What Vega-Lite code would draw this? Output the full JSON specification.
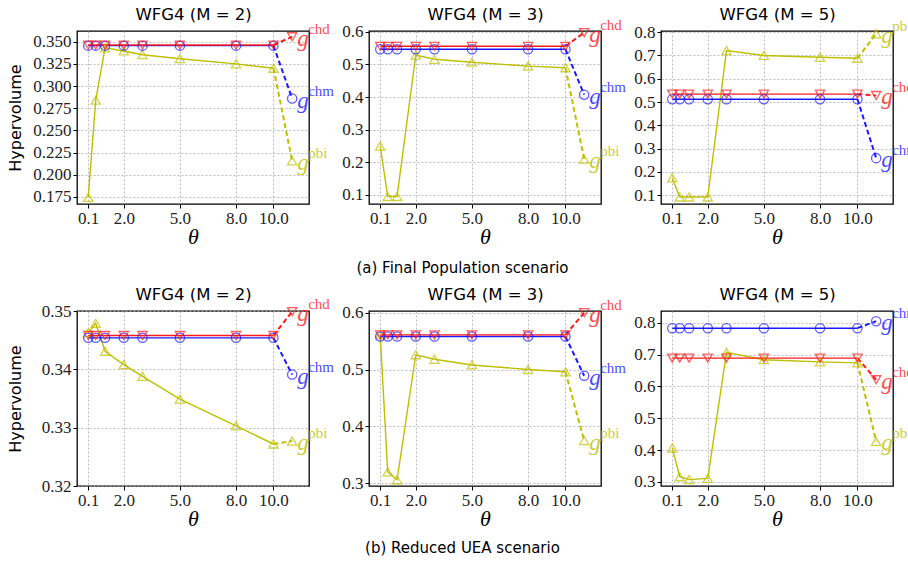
{
"$schema": "https://vega.github.io/schema/vega-lite/v6.json",
"background": "white",
"padding": {"left": 6, "top": 5, "right": 0, "bottom": 0},
"datasets": {"hv": [
{"sc":"a","M":2,"s":"pbi","t":0.1,"v":0.1744},{"sc":"a","M":2,"s":"pbi","t":0.5,"v":0.284},{"sc":"a","M":2,"s":"pbi","t":1.0,"v":0.343},{"sc":"a","M":2,"s":"pbi","t":2.0,"v":0.3395},{"sc":"a","M":2,"s":"pbi","t":3.0,"v":0.3353},{"sc":"a","M":2,"s":"pbi","t":5.0,"v":0.3308},{"sc":"a","M":2,"s":"pbi","t":8.0,"v":0.325},{"sc":"a","M":2,"s":"pbi","t":10.0,"v":0.320},{"sc":"a","M":2,"s":"pbi","t":11.0,"v":0.2157},
{"sc":"a","M":2,"s":"chm","t":0.1,"v":0.3455},{"sc":"a","M":2,"s":"chm","t":0.5,"v":0.3455},{"sc":"a","M":2,"s":"chm","t":1.0,"v":0.3455},{"sc":"a","M":2,"s":"chm","t":2.0,"v":0.3455},{"sc":"a","M":2,"s":"chm","t":3.0,"v":0.3455},{"sc":"a","M":2,"s":"chm","t":5.0,"v":0.3455},{"sc":"a","M":2,"s":"chm","t":8.0,"v":0.3455},{"sc":"a","M":2,"s":"chm","t":10.0,"v":0.3455},{"sc":"a","M":2,"s":"chm","t":11.0,"v":0.2859},
{"sc":"a","M":2,"s":"chd","t":0.1,"v":0.3462},{"sc":"a","M":2,"s":"chd","t":0.5,"v":0.3462},{"sc":"a","M":2,"s":"chd","t":1.0,"v":0.3462},{"sc":"a","M":2,"s":"chd","t":2.0,"v":0.3462},{"sc":"a","M":2,"s":"chd","t":3.0,"v":0.3462},{"sc":"a","M":2,"s":"chd","t":5.0,"v":0.3462},{"sc":"a","M":2,"s":"chd","t":8.0,"v":0.3462},{"sc":"a","M":2,"s":"chd","t":10.0,"v":0.3462},{"sc":"a","M":2,"s":"chd","t":11.0,"v":0.3555},
{"sc":"a","M":3,"s":"pbi","t":0.1,"v":0.249},{"sc":"a","M":3,"s":"pbi","t":0.5,"v":0.094},{"sc":"a","M":3,"s":"pbi","t":1.0,"v":0.094},{"sc":"a","M":3,"s":"pbi","t":2.0,"v":0.529},{"sc":"a","M":3,"s":"pbi","t":3.0,"v":0.516},{"sc":"a","M":3,"s":"pbi","t":5.0,"v":0.507},{"sc":"a","M":3,"s":"pbi","t":8.0,"v":0.495},{"sc":"a","M":3,"s":"pbi","t":10.0,"v":0.490},{"sc":"a","M":3,"s":"pbi","t":11.0,"v":0.209},
{"sc":"a","M":3,"s":"chm","t":0.1,"v":0.547},{"sc":"a","M":3,"s":"chm","t":0.5,"v":0.547},{"sc":"a","M":3,"s":"chm","t":1.0,"v":0.547},{"sc":"a","M":3,"s":"chm","t":2.0,"v":0.547},{"sc":"a","M":3,"s":"chm","t":3.0,"v":0.547},{"sc":"a","M":3,"s":"chm","t":5.0,"v":0.547},{"sc":"a","M":3,"s":"chm","t":8.0,"v":0.547},{"sc":"a","M":3,"s":"chm","t":10.0,"v":0.547},{"sc":"a","M":3,"s":"chm","t":11.0,"v":0.407},
{"sc":"a","M":3,"s":"chd","t":0.1,"v":0.556},{"sc":"a","M":3,"s":"chd","t":0.5,"v":0.556},{"sc":"a","M":3,"s":"chd","t":1.0,"v":0.556},{"sc":"a","M":3,"s":"chd","t":2.0,"v":0.556},{"sc":"a","M":3,"s":"chd","t":3.0,"v":0.556},{"sc":"a","M":3,"s":"chd","t":5.0,"v":0.556},{"sc":"a","M":3,"s":"chd","t":8.0,"v":0.556},{"sc":"a","M":3,"s":"chd","t":10.0,"v":0.556},{"sc":"a","M":3,"s":"chd","t":11.0,"v":0.598},
{"sc":"a","M":5,"s":"pbi","t":0.1,"v":0.174},{"sc":"a","M":5,"s":"pbi","t":0.5,"v":0.092},{"sc":"a","M":5,"s":"pbi","t":1.0,"v":0.092},{"sc":"a","M":5,"s":"pbi","t":2.0,"v":0.092},{"sc":"a","M":5,"s":"pbi","t":3.0,"v":0.721},{"sc":"a","M":5,"s":"pbi","t":5.0,"v":0.700},{"sc":"a","M":5,"s":"pbi","t":8.0,"v":0.692},{"sc":"a","M":5,"s":"pbi","t":10.0,"v":0.688},{"sc":"a","M":5,"s":"pbi","t":11.0,"v":0.793},
{"sc":"a","M":5,"s":"chm","t":0.1,"v":0.512},{"sc":"a","M":5,"s":"chm","t":0.5,"v":0.512},{"sc":"a","M":5,"s":"chm","t":1.0,"v":0.512},{"sc":"a","M":5,"s":"chm","t":2.0,"v":0.512},{"sc":"a","M":5,"s":"chm","t":3.0,"v":0.512},{"sc":"a","M":5,"s":"chm","t":5.0,"v":0.512},{"sc":"a","M":5,"s":"chm","t":8.0,"v":0.512},{"sc":"a","M":5,"s":"chm","t":10.0,"v":0.512},{"sc":"a","M":5,"s":"chm","t":11.0,"v":0.259},
{"sc":"a","M":5,"s":"chd","t":0.1,"v":0.534},{"sc":"a","M":5,"s":"chd","t":0.5,"v":0.534},{"sc":"a","M":5,"s":"chd","t":1.0,"v":0.534},{"sc":"a","M":5,"s":"chd","t":2.0,"v":0.534},{"sc":"a","M":5,"s":"chd","t":3.0,"v":0.534},{"sc":"a","M":5,"s":"chd","t":5.0,"v":0.534},{"sc":"a","M":5,"s":"chd","t":8.0,"v":0.534},{"sc":"a","M":5,"s":"chd","t":10.0,"v":0.534},{"sc":"a","M":5,"s":"chd","t":11.0,"v":0.528},
{"sc":"b","M":2,"s":"pbi","t":0.1,"v":0.3463},{"sc":"b","M":2,"s":"pbi","t":0.5,"v":0.3479},{"sc":"b","M":2,"s":"pbi","t":1.0,"v":0.3431},{"sc":"b","M":2,"s":"pbi","t":2.0,"v":0.3408},{"sc":"b","M":2,"s":"pbi","t":3.0,"v":0.3388},{"sc":"b","M":2,"s":"pbi","t":5.0,"v":0.3349},{"sc":"b","M":2,"s":"pbi","t":8.0,"v":0.3303},{"sc":"b","M":2,"s":"pbi","t":10.0,"v":0.3272},{"sc":"b","M":2,"s":"pbi","t":11.0,"v":0.3277},
{"sc":"b","M":2,"s":"chm","t":0.1,"v":0.3454},{"sc":"b","M":2,"s":"chm","t":0.5,"v":0.3454},{"sc":"b","M":2,"s":"chm","t":1.0,"v":0.3454},{"sc":"b","M":2,"s":"chm","t":2.0,"v":0.3454},{"sc":"b","M":2,"s":"chm","t":3.0,"v":0.3454},{"sc":"b","M":2,"s":"chm","t":5.0,"v":0.3454},{"sc":"b","M":2,"s":"chm","t":8.0,"v":0.3454},{"sc":"b","M":2,"s":"chm","t":10.0,"v":0.3454},{"sc":"b","M":2,"s":"chm","t":11.0,"v":0.3391},
{"sc":"b","M":2,"s":"chd","t":0.1,"v":0.3458},{"sc":"b","M":2,"s":"chd","t":0.5,"v":0.3458},{"sc":"b","M":2,"s":"chd","t":1.0,"v":0.3458},{"sc":"b","M":2,"s":"chd","t":2.0,"v":0.3458},{"sc":"b","M":2,"s":"chd","t":3.0,"v":0.3458},{"sc":"b","M":2,"s":"chd","t":5.0,"v":0.3458},{"sc":"b","M":2,"s":"chd","t":8.0,"v":0.3458},{"sc":"b","M":2,"s":"chd","t":10.0,"v":0.3458},{"sc":"b","M":2,"s":"chd","t":11.0,"v":0.3499},
{"sc":"b","M":3,"s":"pbi","t":0.1,"v":0.561},{"sc":"b","M":3,"s":"pbi","t":0.5,"v":0.320},{"sc":"b","M":3,"s":"pbi","t":1.0,"v":0.306},{"sc":"b","M":3,"s":"pbi","t":2.0,"v":0.526},{"sc":"b","M":3,"s":"pbi","t":3.0,"v":0.518},{"sc":"b","M":3,"s":"pbi","t":5.0,"v":0.508},{"sc":"b","M":3,"s":"pbi","t":8.0,"v":0.500},{"sc":"b","M":3,"s":"pbi","t":10.0,"v":0.496},{"sc":"b","M":3,"s":"pbi","t":11.0,"v":0.375},
{"sc":"b","M":3,"s":"chm","t":0.1,"v":0.558},{"sc":"b","M":3,"s":"chm","t":0.5,"v":0.558},{"sc":"b","M":3,"s":"chm","t":1.0,"v":0.558},{"sc":"b","M":3,"s":"chm","t":2.0,"v":0.558},{"sc":"b","M":3,"s":"chm","t":3.0,"v":0.558},{"sc":"b","M":3,"s":"chm","t":5.0,"v":0.558},{"sc":"b","M":3,"s":"chm","t":8.0,"v":0.558},{"sc":"b","M":3,"s":"chm","t":10.0,"v":0.558},{"sc":"b","M":3,"s":"chm","t":11.0,"v":0.489},
{"sc":"b","M":3,"s":"chd","t":0.1,"v":0.561},{"sc":"b","M":3,"s":"chd","t":0.5,"v":0.561},{"sc":"b","M":3,"s":"chd","t":1.0,"v":0.561},{"sc":"b","M":3,"s":"chd","t":2.0,"v":0.561},{"sc":"b","M":3,"s":"chd","t":3.0,"v":0.561},{"sc":"b","M":3,"s":"chd","t":5.0,"v":0.561},{"sc":"b","M":3,"s":"chd","t":8.0,"v":0.561},{"sc":"b","M":3,"s":"chd","t":10.0,"v":0.561},{"sc":"b","M":3,"s":"chd","t":11.0,"v":0.600},
{"sc":"b","M":5,"s":"pbi","t":0.1,"v":0.406},{"sc":"b","M":5,"s":"pbi","t":0.5,"v":0.316},{"sc":"b","M":5,"s":"pbi","t":1.0,"v":0.307},{"sc":"b","M":5,"s":"pbi","t":2.0,"v":0.311},{"sc":"b","M":5,"s":"pbi","t":3.0,"v":0.707},{"sc":"b","M":5,"s":"pbi","t":5.0,"v":0.684},{"sc":"b","M":5,"s":"pbi","t":8.0,"v":0.677},{"sc":"b","M":5,"s":"pbi","t":10.0,"v":0.674},{"sc":"b","M":5,"s":"pbi","t":11.0,"v":0.427},
{"sc":"b","M":5,"s":"chm","t":0.1,"v":0.783},{"sc":"b","M":5,"s":"chm","t":0.5,"v":0.783},{"sc":"b","M":5,"s":"chm","t":1.0,"v":0.783},{"sc":"b","M":5,"s":"chm","t":2.0,"v":0.783},{"sc":"b","M":5,"s":"chm","t":3.0,"v":0.783},{"sc":"b","M":5,"s":"chm","t":5.0,"v":0.783},{"sc":"b","M":5,"s":"chm","t":8.0,"v":0.783},{"sc":"b","M":5,"s":"chm","t":10.0,"v":0.783},{"sc":"b","M":5,"s":"chm","t":11.0,"v":0.805},
{"sc":"b","M":5,"s":"chd","t":0.1,"v":0.689},{"sc":"b","M":5,"s":"chd","t":0.5,"v":0.689},{"sc":"b","M":5,"s":"chd","t":1.0,"v":0.689},{"sc":"b","M":5,"s":"chd","t":2.0,"v":0.689},{"sc":"b","M":5,"s":"chd","t":3.0,"v":0.689},{"sc":"b","M":5,"s":"chd","t":5.0,"v":0.689},{"sc":"b","M":5,"s":"chd","t":8.0,"v":0.689},{"sc":"b","M":5,"s":"chd","t":10.0,"v":0.689},{"sc":"b","M":5,"s":"chd","t":11.0,"v":0.621}
]},
"vconcat": [
{
"title": {"text": "(a) Final Population scenario", "orient": "bottom", "font": "DejaVu Sans", "fontSize": 15, "fontWeight": "normal", "anchor": "middle", "offset": 13},
"spacing": 4,
"hconcat": [
{"width": 232, "height": 173, "data": {"name": "hv"},
 "transform": [{"filter": "datum.sc == 'a' && datum.M == 2"}],
 "resolve": {"axis": {"x": "independent"}},
 "encoding": {
  "x": {"field": "t", "type": "quantitative", "scale": {"domain": [-0.5, 11.9], "nice": false, "zero": false}, "axis": null},
  "y": {"field": "v", "type": "quantitative", "scale": {"domain": [0.167, 0.362], "nice": false, "zero": false}, "axis": {"values": [0.175, 0.2, 0.225, 0.25, 0.275, 0.3, 0.325, 0.35], "format": ".3f", "title": "Hypervolume", "minExtent": 48, "maxExtent": 48}},
  "color": {"field": "s", "type": "nominal", "scale": {"domain": ["chd", "chm", "pbi"], "range": ["#ff1a1a", "#1a1aff", "#bfbf00"]}, "legend": null}
 },
 "layer": [
  {"transform": [{"filter": "datum.t <= 10"}], "mark": {"type": "line", "strokeWidth": 1.4}, "encoding": {"x": {"field": "t", "type": "quantitative", "scale": {"domain": [-0.5, 11.9], "nice": false, "zero": false}, "axis": {"values": [0.1, 2, 5, 8, 10], "format": ".1f", "title": "θ"}}}},
  {"transform": [{"filter": "datum.t >= 10"}], "mark": {"type": "line", "strokeWidth": 2, "strokeDash": [5, 3]}, "encoding": {"x": {"field": "t", "type": "quantitative", "scale": {"domain": [-0.5, 11.9], "nice": false, "zero": false}, "axis": {"orient": "top", "title": "WFG4 (M = 2)", "labels": false, "ticks": false, "grid": false, "domain": false, "titleFont": "DejaVu Sans", "titleFontStyle": "normal", "titleFontSize": 16.5, "titlePadding": 9}}}},
  {"mark": {"type": "point", "filled": false, "size": 85, "strokeWidth": 1.3}, "encoding": {"shape": {"field": "s", "type": "nominal", "scale": {"domain": ["chd", "chm", "pbi"], "range": ["triangle-down", "circle", "triangle-up"]}, "legend": null}}},
  {"transform": [{"filter": "datum.t == 11"}], "mark": {"type": "text", "align": "left", "baseline": "middle", "dx": 5, "dy": 2, "font": "Liberation Serif", "fontStyle": "italic", "fontSize": 23, "opacity": 0.8}, "encoding": {"text": {"value": "g"}}},
  {"transform": [{"filter": "datum.t == 11"}], "mark": {"type": "text", "align": "left", "baseline": "middle", "dx": 16, "dy": -8, "font": "Liberation Serif", "fontSize": 15, "opacity": 0.8}, "encoding": {"text": {"field": "s"}}}
 ]},
{"width": 232, "height": 173, "data": {"name": "hv"},
 "transform": [{"filter": "datum.sc == 'a' && datum.M == 3"}],
 "resolve": {"axis": {"x": "independent"}},
 "encoding": {
  "x": {"field": "t", "type": "quantitative", "scale": {"domain": [-0.5, 11.9], "nice": false, "zero": false}, "axis": null},
  "y": {"field": "v", "type": "quantitative", "scale": {"domain": [0.071, 0.603], "nice": false, "zero": false}, "axis": {"values": [0.1, 0.2, 0.3, 0.4, 0.5, 0.6], "format": ".1f", "title": null, "minExtent": 29, "maxExtent": 29}},
  "color": {"field": "s", "type": "nominal", "scale": {"domain": ["chd", "chm", "pbi"], "range": ["#ff1a1a", "#1a1aff", "#bfbf00"]}, "legend": null}
 },
 "layer": [
  {"transform": [{"filter": "datum.t <= 10"}], "mark": {"type": "line", "strokeWidth": 1.4}, "encoding": {"x": {"field": "t", "type": "quantitative", "scale": {"domain": [-0.5, 11.9], "nice": false, "zero": false}, "axis": {"values": [0.1, 2, 5, 8, 10], "format": ".1f", "title": "θ"}}}},
  {"transform": [{"filter": "datum.t >= 10"}], "mark": {"type": "line", "strokeWidth": 2, "strokeDash": [5, 3]}, "encoding": {"x": {"field": "t", "type": "quantitative", "scale": {"domain": [-0.5, 11.9], "nice": false, "zero": false}, "axis": {"orient": "top", "title": "WFG4 (M = 3)", "labels": false, "ticks": false, "grid": false, "domain": false, "titleFont": "DejaVu Sans", "titleFontStyle": "normal", "titleFontSize": 16.5, "titlePadding": 9}}}},
  {"mark": {"type": "point", "filled": false, "size": 85, "strokeWidth": 1.3}, "encoding": {"shape": {"field": "s", "type": "nominal", "scale": {"domain": ["chd", "chm", "pbi"], "range": ["triangle-down", "circle", "triangle-up"]}, "legend": null}}},
  {"transform": [{"filter": "datum.t == 11"}], "mark": {"type": "text", "align": "left", "baseline": "middle", "dx": 5, "dy": 2, "font": "Liberation Serif", "fontStyle": "italic", "fontSize": 23, "opacity": 0.8}, "encoding": {"text": {"value": "g"}}},
  {"transform": [{"filter": "datum.t == 11"}], "mark": {"type": "text", "align": "left", "baseline": "middle", "dx": 16, "dy": -8, "font": "Liberation Serif", "fontSize": 15, "opacity": 0.8}, "encoding": {"text": {"field": "s"}}}
 ]},
{"width": 232, "height": 173, "data": {"name": "hv"},
 "transform": [{"filter": "datum.sc == 'a' && datum.M == 5"}],
 "resolve": {"axis": {"x": "independent"}},
 "encoding": {
  "x": {"field": "t", "type": "quantitative", "scale": {"domain": [-0.5, 11.9], "nice": false, "zero": false}, "axis": null},
  "y": {"field": "v", "type": "quantitative", "scale": {"domain": [0.062, 0.805], "nice": false, "zero": false}, "axis": {"values": [0.1, 0.2, 0.3, 0.4, 0.5, 0.6, 0.7, 0.8], "format": ".1f", "title": null, "minExtent": 29, "maxExtent": 29}},
  "color": {"field": "s", "type": "nominal", "scale": {"domain": ["chd", "chm", "pbi"], "range": ["#ff1a1a", "#1a1aff", "#bfbf00"]}, "legend": null}
 },
 "layer": [
  {"transform": [{"filter": "datum.t <= 10"}], "mark": {"type": "line", "strokeWidth": 1.4}, "encoding": {"x": {"field": "t", "type": "quantitative", "scale": {"domain": [-0.5, 11.9], "nice": false, "zero": false}, "axis": {"values": [0.1, 2, 5, 8, 10], "format": ".1f", "title": "θ"}}}},
  {"transform": [{"filter": "datum.t >= 10"}], "mark": {"type": "line", "strokeWidth": 2, "strokeDash": [5, 3]}, "encoding": {"x": {"field": "t", "type": "quantitative", "scale": {"domain": [-0.5, 11.9], "nice": false, "zero": false}, "axis": {"orient": "top", "title": "WFG4 (M = 5)", "labels": false, "ticks": false, "grid": false, "domain": false, "titleFont": "DejaVu Sans", "titleFontStyle": "normal", "titleFontSize": 16.5, "titlePadding": 9}}}},
  {"mark": {"type": "point", "filled": false, "size": 85, "strokeWidth": 1.3}, "encoding": {"shape": {"field": "s", "type": "nominal", "scale": {"domain": ["chd", "chm", "pbi"], "range": ["triangle-down", "circle", "triangle-up"]}, "legend": null}}},
  {"transform": [{"filter": "datum.t == 11"}], "mark": {"type": "text", "align": "left", "baseline": "middle", "dx": 5, "dy": 2, "font": "Liberation Serif", "fontStyle": "italic", "fontSize": 23, "opacity": 0.8}, "encoding": {"text": {"value": "g"}}},
  {"transform": [{"filter": "datum.t == 11"}], "mark": {"type": "text", "align": "left", "baseline": "middle", "dx": 16, "dy": -8, "font": "Liberation Serif", "fontSize": 15, "opacity": 0.8}, "encoding": {"text": {"field": "s"}}}
 ]}
]},
{
"title": {"text": "(b) Reduced UEA scenario", "orient": "bottom", "font": "DejaVu Sans", "fontSize": 15, "fontWeight": "normal", "anchor": "middle", "offset": 11},
"spacing": 4,
"hconcat": [
{"width": 232, "height": 175, "data": {"name": "hv"},
 "transform": [{"filter": "datum.sc == 'b' && datum.M == 2"}],
 "resolve": {"axis": {"x": "independent"}},
 "encoding": {
  "x": {"field": "t", "type": "quantitative", "scale": {"domain": [-0.5, 11.9], "nice": false, "zero": false}, "axis": null},
  "y": {"field": "v", "type": "quantitative", "scale": {"domain": [0.32, 0.35], "nice": false, "zero": false}, "axis": {"values": [0.32, 0.33, 0.34, 0.35], "format": ".2f", "title": "Hypervolume", "minExtent": 48, "maxExtent": 48}},
  "color": {"field": "s", "type": "nominal", "scale": {"domain": ["chd", "chm", "pbi"], "range": ["#ff1a1a", "#1a1aff", "#bfbf00"]}, "legend": null}
 },
 "layer": [
  {"transform": [{"filter": "datum.t <= 10"}], "mark": {"type": "line", "strokeWidth": 1.4}, "encoding": {"x": {"field": "t", "type": "quantitative", "scale": {"domain": [-0.5, 11.9], "nice": false, "zero": false}, "axis": {"values": [0.1, 2, 5, 8, 10], "format": ".1f", "title": "θ"}}}},
  {"transform": [{"filter": "datum.t >= 10"}], "mark": {"type": "line", "strokeWidth": 2, "strokeDash": [5, 3]}, "encoding": {"x": {"field": "t", "type": "quantitative", "scale": {"domain": [-0.5, 11.9], "nice": false, "zero": false}, "axis": {"orient": "top", "title": "WFG4 (M = 2)", "labels": false, "ticks": false, "grid": false, "domain": false, "titleFont": "DejaVu Sans", "titleFontStyle": "normal", "titleFontSize": 16.5, "titlePadding": 9}}}},
  {"mark": {"type": "point", "filled": false, "size": 85, "strokeWidth": 1.3}, "encoding": {"shape": {"field": "s", "type": "nominal", "scale": {"domain": ["chd", "chm", "pbi"], "range": ["triangle-down", "circle", "triangle-up"]}, "legend": null}}},
  {"transform": [{"filter": "datum.t == 11"}], "mark": {"type": "text", "align": "left", "baseline": "middle", "dx": 5, "dy": 2, "font": "Liberation Serif", "fontStyle": "italic", "fontSize": 23, "opacity": 0.8}, "encoding": {"text": {"value": "g"}}},
  {"transform": [{"filter": "datum.t == 11"}], "mark": {"type": "text", "align": "left", "baseline": "middle", "dx": 16, "dy": -8, "font": "Liberation Serif", "fontSize": 15, "opacity": 0.8}, "encoding": {"text": {"field": "s"}}}
 ]},
{"width": 232, "height": 175, "data": {"name": "hv"},
 "transform": [{"filter": "datum.sc == 'b' && datum.M == 3"}],
 "resolve": {"axis": {"x": "independent"}},
 "encoding": {
  "x": {"field": "t", "type": "quantitative", "scale": {"domain": [-0.5, 11.9], "nice": false, "zero": false}, "axis": null},
  "y": {"field": "v", "type": "quantitative", "scale": {"domain": [0.295, 0.603], "nice": false, "zero": false}, "axis": {"values": [0.3, 0.4, 0.5, 0.6], "format": ".1f", "title": null, "minExtent": 29, "maxExtent": 29}},
  "color": {"field": "s", "type": "nominal", "scale": {"domain": ["chd", "chm", "pbi"], "range": ["#ff1a1a", "#1a1aff", "#bfbf00"]}, "legend": null}
 },
 "layer": [
  {"transform": [{"filter": "datum.t <= 10"}], "mark": {"type": "line", "strokeWidth": 1.4}, "encoding": {"x": {"field": "t", "type": "quantitative", "scale": {"domain": [-0.5, 11.9], "nice": false, "zero": false}, "axis": {"values": [0.1, 2, 5, 8, 10], "format": ".1f", "title": "θ"}}}},
  {"transform": [{"filter": "datum.t >= 10"}], "mark": {"type": "line", "strokeWidth": 2, "strokeDash": [5, 3]}, "encoding": {"x": {"field": "t", "type": "quantitative", "scale": {"domain": [-0.5, 11.9], "nice": false, "zero": false}, "axis": {"orient": "top", "title": "WFG4 (M = 3)", "labels": false, "ticks": false, "grid": false, "domain": false, "titleFont": "DejaVu Sans", "titleFontStyle": "normal", "titleFontSize": 16.5, "titlePadding": 9}}}},
  {"mark": {"type": "point", "filled": false, "size": 85, "strokeWidth": 1.3}, "encoding": {"shape": {"field": "s", "type": "nominal", "scale": {"domain": ["chd", "chm", "pbi"], "range": ["triangle-down", "circle", "triangle-up"]}, "legend": null}}},
  {"transform": [{"filter": "datum.t == 11"}], "mark": {"type": "text", "align": "left", "baseline": "middle", "dx": 5, "dy": 2, "font": "Liberation Serif", "fontStyle": "italic", "fontSize": 23, "opacity": 0.8}, "encoding": {"text": {"value": "g"}}},
  {"transform": [{"filter": "datum.t == 11"}], "mark": {"type": "text", "align": "left", "baseline": "middle", "dx": 16, "dy": -8, "font": "Liberation Serif", "fontSize": 15, "opacity": 0.8}, "encoding": {"text": {"field": "s"}}}
 ]},
{"width": 232, "height": 175, "data": {"name": "hv"},
 "transform": [{"filter": "datum.sc == 'b' && datum.M == 5"}],
 "resolve": {"axis": {"x": "independent"}},
 "encoding": {
  "x": {"field": "t", "type": "quantitative", "scale": {"domain": [-0.5, 11.9], "nice": false, "zero": false}, "axis": null},
  "y": {"field": "v", "type": "quantitative", "scale": {"domain": [0.287, 0.837], "nice": false, "zero": false}, "axis": {"values": [0.3, 0.4, 0.5, 0.6, 0.7, 0.8], "format": ".1f", "title": null, "minExtent": 29, "maxExtent": 29}},
  "color": {"field": "s", "type": "nominal", "scale": {"domain": ["chd", "chm", "pbi"], "range": ["#ff1a1a", "#1a1aff", "#bfbf00"]}, "legend": null}
 },
 "layer": [
  {"transform": [{"filter": "datum.t <= 10"}], "mark": {"type": "line", "strokeWidth": 1.4}, "encoding": {"x": {"field": "t", "type": "quantitative", "scale": {"domain": [-0.5, 11.9], "nice": false, "zero": false}, "axis": {"values": [0.1, 2, 5, 8, 10], "format": ".1f", "title": "θ"}}}},
  {"transform": [{"filter": "datum.t >= 10"}], "mark": {"type": "line", "strokeWidth": 2, "strokeDash": [5, 3]}, "encoding": {"x": {"field": "t", "type": "quantitative", "scale": {"domain": [-0.5, 11.9], "nice": false, "zero": false}, "axis": {"orient": "top", "title": "WFG4 (M = 5)", "labels": false, "ticks": false, "grid": false, "domain": false, "titleFont": "DejaVu Sans", "titleFontStyle": "normal", "titleFontSize": 16.5, "titlePadding": 9}}}},
  {"mark": {"type": "point", "filled": false, "size": 85, "strokeWidth": 1.3}, "encoding": {"shape": {"field": "s", "type": "nominal", "scale": {"domain": ["chd", "chm", "pbi"], "range": ["triangle-down", "circle", "triangle-up"]}, "legend": null}}},
  {"transform": [{"filter": "datum.t == 11"}], "mark": {"type": "text", "align": "left", "baseline": "middle", "dx": 5, "dy": 2, "font": "Liberation Serif", "fontStyle": "italic", "fontSize": 23, "opacity": 0.8}, "encoding": {"text": {"value": "g"}}},
  {"transform": [{"filter": "datum.t == 11"}], "mark": {"type": "text", "align": "left", "baseline": "middle", "dx": 16, "dy": -8, "font": "Liberation Serif", "fontSize": 15, "opacity": 0.8}, "encoding": {"text": {"field": "s"}}}
 ]}
]}
],
"spacing": 9,
"config": {
 "view": {"stroke": "black", "strokeWidth": 1.3},
 "axis": {"grid": true, "gridDash": [2, 2], "gridColor": "#a8a8a8", "gridWidth": 0.8, "domain": false, "tickColor": "black", "tickSize": 4, "labelFont": "Liberation Serif", "labelFontSize": 17, "labelColor": "#222222", "labelPadding": 2, "titleColor": "black", "titleFontWeight": "normal"},
 "axisX": {"titleFont": "Liberation Serif", "titleFontStyle": "italic", "titleFontSize": 22, "titlePadding": 0, "labelFlush": false},
 "axisY": {"titleFont": "DejaVu Sans", "titleFontSize": 16, "titlePadding": 6, "labelFlush": false},
 "title": {"font": "DejaVu Sans", "fontSize": 15, "fontWeight": "normal", "color": "black"}
}
}
